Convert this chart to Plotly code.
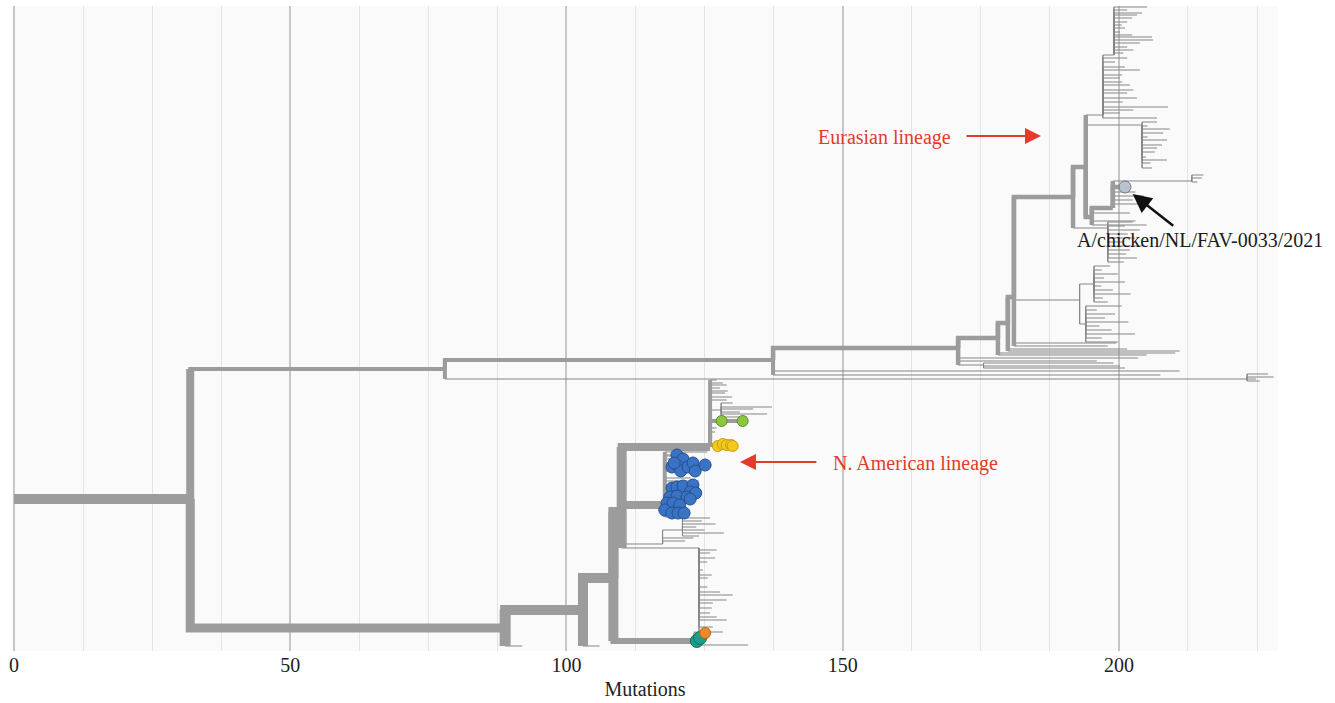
import plotly.graph_objects as go
from collections import defaultdict

# ---------------------------------------------------------------------------
# Tree data: internal nodes (mutations from root, vertical layout row)
# ---------------------------------------------------------------------------
node_names = ["root", "n1", "o1", "e0", "og", "e1", "e2", "e3", "e4", "e6", "e7", "e8", "e9",
              "ca", "cb", "cc", "cd", "m1", "m2", "m2a", "m2b", "bt1",
              "na1", "na2", "na3", "na4", "na5", "na6", "na7", "na8", "na9", "na10", "nu1", "g"]
node_parents = [None, "root", "n1", "o1", "o1", "e0", "e1", "e2", "e3", "e4", "e6", "e7", "e8",
                "e7", "ca", "e7", "e9", "e6", "e4", "m2", "m2", "e1",
                "n1", "na1", "na2", "na3", "na3", "na4", "na4", "na4", "na4", "na9", "na6", "na6"]
node_mutations = [0.0, 31.9, 78.0, 137.4, 223.2, 170.9, 178.1, 179.9, 181.0, 191.7, 194.0, 195.1, 198.9,
                  197.1, 199.1, 204.2, 213.2, 198.0, 192.9, 195.5, 194.0, 175.5,
                  88.9, 103.0, 108.5, 110.0, 123.3, 126.0, 117.8, 124.0, 117.4, 121.0, 128.0, 126.2]
node_rows = [499, 499, 369, 360, 379, 348, 338, 323, 297, 197, 167, 217, 208,
             115, 55, 125, 181, 228, 300, 284, 324, 365,
             628, 610, 578, 512, 641, 447, 505, 548, 544, 530, 410, 421]

# ---------------------------------------------------------------------------
# Leaves: (parent node, layout rows, mutations)
# ---------------------------------------------------------------------------
og_rows = [374, 377, 379, 381]
og_mut = [227.0, 228.0, 224.8, 225.5]
e0_rows = [371, 375]
e0_mut = [211.0, 207.5]
e1_rows = [358, 361]
e1_mut = [203.5, 196.0]
bt1_rows = [363, 366, 368]
bt1_mut = [199.0, 200.2, 201.1]
e2_rows = [353, 355]
e2_mut = [210.2, 205.0]
e3_rows = [349, 351]
e3_mut = [201.5, 211.0]
e4_rows = [343, 346]
e4_mut = [199.5, 198.0]
e8_rows = [213, 221, 225]
e8_mut = [202.0, 203.0, 205.0]
e9_rows = [192, 196, 200, 204]
e9_mut = [203.0, 204.5, 202.5, 205.5]
cd_rows = [175, 178, 182]
cd_mut = [215.3, 215.0, 214.2]
ca_rows = [58, 62, 67, 70, 75, 78, 82, 85, 90, 93, 98, 102, 107, 110, 113, 118]
ca_mut = [201.5, 199.3, 201.1, 203.8, 200.6, 200.2, 200.6, 202.0, 202.6, 201.5, 203.3, 200.7,
          208.9, 202.6, 200.2, 206.9]
cb_rows = [7, 10, 13, 15, 18, 22, 25, 28, 32, 35, 37, 40, 43, 47, 50, 53]
cb_mut = [205.1, 201.5, 204.2, 203.3, 202.4, 201.5, 200.5, 201.1, 200.2, 202.4, 206.0, 206.2,
          203.8, 201.5, 202.6, 200.8]
cc_rows = [122, 126, 129, 133, 137, 140, 145, 148, 152, 157, 160, 163, 168]
cc_mut = [206.9, 205.2, 209.2, 208.0, 205.2, 208.7, 207.8, 206.9, 206.5, 204.9, 208.7, 205.7, 206.0]
m1_rows = [222, 226, 230, 234, 238, 242, 246, 250, 254, 258, 262]
m1_mut = [202.5, 201.1, 203.8, 201.6, 202.9, 200.6, 204.3, 202.0, 201.3, 203.3, 200.9]
m2a_rows = [266, 270, 274, 278, 282, 286, 290, 294, 298, 302]
m2a_mut = [198.4, 196.9, 199.8, 197.3, 201.1, 196.8, 198.9, 202.1, 197.1, 198.0]
m2b_rows = [306, 310, 314, 318, 322, 326, 330, 334, 338, 342]
m2b_mut = [200.5, 196.0, 199.3, 197.5, 201.7, 196.5, 198.7, 202.9, 196.9, 199.8]

na6_rows = [380, 383, 385, 388, 391, 393, 397, 400, 428, 432, 437]
na6_mut = [127.2, 128.3, 129.0, 127.8, 129.2, 128.7, 130.0, 129.0, 127.2, 126.9, 126.4]
nu1_rows = [403, 407, 409, 412, 414, 417]
nu1_mut = [130.1, 137.2, 133.8, 131.4, 136.3, 132.7]
na7_rows = [452, 456, 478, 481, 517]
na7_mut = [125.5, 121.0, 122.5, 124.0, 119.5]
na9_rows = [541, 538]
na9_mut = [121.5, 123.0]
na10_rows = [518, 521, 524, 527, 530, 533, 536]
na10_mut = [126.0, 124.5, 127.0, 123.5, 125.0, 128.5, 124.0]
na8_rows = [550, 553, 558, 562, 570, 575, 578, 587, 592, 595, 600, 603, 608, 613, 617, 620, 627, 632]
na8_mut = [127.2, 126.0, 126.9, 125.5, 124.7, 126.3, 125.6, 125.5, 127.8, 130.1, 129.0, 126.5,
           126.3, 126.0, 127.2, 129.0, 126.5, 128.3]
na5_rows = [645]
na5_mut = [132.9]
na1_rows = [646]
na1_mut = [92.0]
na2_rows = [646]
na2_mut = [106.0]

# Highlighted (coloured) sequences
query_rows = [187]
query_mut = [201.1]
blue_rows = [455, 459, 467, 466, 471, 467, 463, 471, 465, 463,
             488, 487, 486, 485, 492, 493, 497, 496, 497, 503, 503, 505, 510, 513, 513, 513, 499]
blue_mut = [120.0, 121.1, 119.1, 120.2, 120.7, 122.0, 122.9, 123.3, 125.1, 119.5,
            119.1, 120.0, 121.1, 122.9, 122.4, 123.4, 118.7, 120.0, 121.8, 118.2, 119.3, 120.5,
            117.8, 119.1, 120.2, 121.3, 122.4]
yellow_rows = [446, 444, 445, 445, 446]
yellow_mut = [127.4, 128.3, 129.0, 129.8, 130.1]
green_rows = [421, 421]
green_mut = [128.1, 131.9]
teal_rows = [641, 638]
teal_mut = [123.6, 124.2]
orange_rows = [633]
orange_mut = [125.1]

leaf_groups = [
    ("og", og_rows, og_mut), ("e0", e0_rows, e0_mut), ("e1", e1_rows, e1_mut),
    ("bt1", bt1_rows, bt1_mut), ("e2", e2_rows, e2_mut), ("e3", e3_rows, e3_mut),
    ("e4", e4_rows, e4_mut), ("e8", e8_rows, e8_mut), ("e9", e9_rows, e9_mut),
    ("cd", cd_rows, cd_mut), ("ca", ca_rows, ca_mut), ("cb", cb_rows, cb_mut),
    ("cc", cc_rows, cc_mut), ("m1", m1_rows, m1_mut), ("m2a", m2a_rows, m2a_mut),
    ("m2b", m2b_rows, m2b_mut),
    ("na6", na6_rows, na6_mut), ("nu1", nu1_rows, nu1_mut), ("na7", na7_rows, na7_mut),
    ("na9", na9_rows, na9_mut), ("na10", na10_rows, na10_mut), ("na8", na8_rows, na8_mut),
    ("na5", na5_rows, na5_mut), ("na1", na1_rows, na1_mut), ("na2", na2_rows, na2_mut),
]
marked_groups = [
    # parent, rows, mutations, fill, outline, size, branch width
    ("e9", query_rows, query_mut, "#b9c3ce", "#6f7a86", 12, 4.5),
    ("na7", blue_rows, blue_mut, "#3a72c4", "#24518f", 12, 1),
    ("na6", yellow_rows, yellow_mut, "#f4c81c", "#c9a10a", 11, 1),
    ("g", green_rows, green_mut, "#8cc63f", "#5f8f28", 11, 4),
    ("na5", teal_rows, teal_mut, "#1a9e89", "#107262", 13, 3),
    ("na5", orange_rows, orange_mut, "#ea8a2c", "#b9651a", 11, 3),
]

# ---------------------------------------------------------------------------
# Branch styling
# ---------------------------------------------------------------------------
THIN = 1.0
branch_width = defaultdict(lambda: THIN, {
    "n1": 10, "o1": 4, "e0": 4, "e1": 4.5, "e2": 4.5, "e3": 4.5, "e4": 4.5, "e6": 4.5,
    "e7": 4.5, "e8": 4.5, "e9": 4.5,
    "na1": 9, "na2": 10, "na3": 10, "na4": 10, "na5": 6, "na6": 8, "na7": 8, "g": 4,
})
vertical_width = defaultdict(lambda: THIN, {
    "n1": 8, "o1": 4, "e0": 4, "e1": 4.5, "e2": 4.5, "e3": 4.5, "e4": 4.5, "e6": 4.5,
    "e7": 4.5, "e8": 4.5, "e9": 4.5,
    "na1": 11, "na2": 10, "na3": 10, "na4": 10, "na5": 4, "na6": 4, "na7": 4, "g": 4,
})
THICK_COLOR = "#9c9c9c"
THIN_COLOR = "#858585"

# ---------------------------------------------------------------------------
# Build elbow segments
# ---------------------------------------------------------------------------
pos = {n: (m, r) for n, m, r in zip(node_names, node_mutations, node_rows)}
child_rows = defaultdict(list)
edges = []  # parent, child mutations, child row, width
for n, p in zip(node_names, node_parents):
    if p is None:
        continue
    m, r = pos[n]
    edges.append((p, m, r, branch_width[n]))
    child_rows[p].append(r)
for p, rows, muts in leaf_groups:
    for r, m in zip(rows, muts):
        edges.append((p, m, r, THIN))
        child_rows[p].append(r)
for p, rows, muts, _, _, _, w in marked_groups:
    for r, m in zip(rows, muts):
        edges.append((p, m, r, w))
        child_rows[p].append(r)

segments = defaultdict(lambda: ([], []))
for p, m, r, w in edges:
    pm, pr = pos[p]
    xs, ys = segments[w]
    xs += [pm, pm, m, None]
    ys += [pr, r, r, None]
for n, rows in child_rows.items():
    m, r = pos[n]
    allr = rows + [r]
    xs, ys = segments[vertical_width[n]]
    xs += [m, m, None]
    ys += [min(allr), max(allr), None]

fig = go.Figure()
for w in sorted(segments):
    xs, ys = segments[w]
    fig.add_trace(go.Scatter(
        x=xs, y=ys, mode="lines", hoverinfo="skip",
        line=dict(color=THIN_COLOR if w < 2 else THICK_COLOR, width=w),
    ))
for p, rows, muts, fill, edge, size, _ in marked_groups:
    fig.add_trace(go.Scatter(
        x=muts, y=rows, mode="markers", hoverinfo="skip",
        marker=dict(size=size, color=fill, line=dict(color=edge, width=1)),
    ))

# ---------------------------------------------------------------------------
# Labels and arrows
# ---------------------------------------------------------------------------
RED = "#e33a2b"
SERIF = "Liberation Serif"
ann = [
    dict(x=157.6, y=137, text="Eurasian lineage", showarrow=False,
         font=dict(family=SERIF, size=20, color=RED)),
    dict(x=185.9, y=136, text="", showarrow=True, ax=-76, ay=0,
         arrowhead=2, arrowsize=1.6, arrowwidth=2, arrowcolor=RED),
    dict(x=163.1, y=463, text="N. American lineage", showarrow=False,
         font=dict(family=SERIF, size=20, color=RED)),
    dict(x=131.4, y=462, text="", showarrow=True, ax=78, ay=0,
         arrowhead=2, arrowsize=1.6, arrowwidth=2, arrowcolor=RED),
    dict(x=214.7, y=240, text="A/chicken/NL/FAV-0033/2021", showarrow=False,
         font=dict(family=SERIF, size=20, color="#1a1a1a")),
    dict(x=202.5, y=194, text="", showarrow=True, ax=42, ay=33,
         arrowhead=2, arrowsize=1.5, arrowwidth=2.5, arrowcolor="#111111"),
]
for a in ann:
    a.update(xref="x", yref="y")

fig.update_layout(
    width=1335, height=703,
    margin=dict(l=12, r=57, t=6, b=52),
    paper_bgcolor="white", plot_bgcolor="#fafafa",
    showlegend=False,
    annotations=ann,
    font=dict(family=SERIF, size=20, color="#222222"),
    xaxis=dict(
        range=[-0.36, 228.8], tick0=0, dtick=50,
        showgrid=True, gridcolor="#c6c6c6", gridwidth=2,
        zeroline=False, showline=False, ticks="",
        tickfont=dict(family=SERIF, size=20, color="#222222"),
        minor=dict(tick0=0, dtick=12.5, showgrid=True, gridcolor="#e4e4e4", gridwidth=1),
        title=dict(text="Mutations", standoff=6,
                   font=dict(family=SERIF, size=20, color="#222222")),
        automargin=False, fixedrange=True,
    ),
    yaxis=dict(range=[651, 6], visible=False, fixedrange=True),
)

fig.write_html("out.html")
